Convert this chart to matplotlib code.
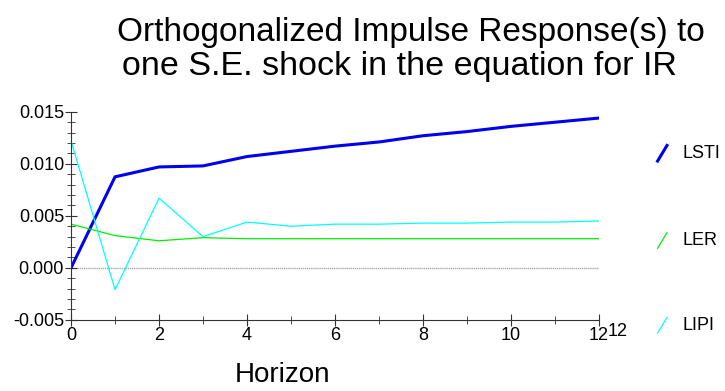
import numpy as np
import matplotlib.pyplot as plt
from matplotlib.lines import Line2D
from matplotlib.ticker import MultipleLocator

plt.rcParams['font.family'] = ['Liberation Sans', 'DejaVu Sans']

# Impulse responses
horizon = list(range(13))
lsti = [0.0, 0.00875, 0.0097, 0.0098, 0.0107, 0.0112, 0.0117, 0.0121,
        0.0127, 0.0131, 0.0136, 0.0140, 0.0144]
ler = [0.0042, 0.0031, 0.0026, 0.0029, 0.0028, 0.0028, 0.0028, 0.0028,
       0.0028, 0.0028, 0.0028, 0.0028, 0.0028]
lipi = [0.0122, -0.0021, 0.0067, 0.0030, 0.0044, 0.0040, 0.0042, 0.0042,
        0.0043, 0.0043, 0.0044, 0.0044, 0.0045]
names = ["LSTI", "LER", "LIPI"]
colors = ["#0000ee", "#00ee00", "#00ffff"]
widths = [2.2, 0.9, 0.9]

fig = plt.figure(figsize=(7.25, 3.91), dpi=100)
ax = fig.add_axes([0.098, 0.182, 0.728, 0.532])

ax.axhline(0, color="#aaaaaa", lw=1, ls=(0, (1, 0.5)), zorder=1)
for series, c, w in zip([lsti, ler, lipi], colors, widths):
    ax.plot(horizon, series, color=c, lw=w, zorder=2)

ax.set_xlim(0, 12)
ax.set_ylim(-0.005, 0.015)
ax.xaxis.set_major_locator(MultipleLocator(2))
ax.xaxis.set_minor_locator(MultipleLocator(1))
ax.yaxis.set_major_locator(MultipleLocator(0.005))
ax.yaxis.set_minor_locator(MultipleLocator(0.001))
ax.yaxis.set_major_formatter(lambda v, p: f"{v:.3f}")
ax.tick_params(which="both", direction="inout", labelsize=13, color="#333333", pad=1)
ax.tick_params(which="major", length=8)
ax.tick_params(which="minor", length=6)
for s in ["top", "right"]:
    ax.spines[s].set_visible(False)
for s in ["left", "bottom"]:
    ax.spines[s].set_color("#333333")

ax.text(12.2, -0.0053, "12", fontsize=13, ha="left", va="top")

fig.text(0.567, 0.918, "Orthogonalized Impulse Response(s) to", fontsize=24, ha="center", va="center")
fig.text(0.551, 0.830, "one S.E. shock in the equation for IR", fontsize=24.5, ha="center", va="center")
fig.text(0.39, 0.04, "Horizon", fontsize=20, ha="center", va="center")

# legend entries
legend_y = [0.608, 0.385, 0.168]
for name, c, w, y in zip(names, colors, widths, legend_y):
    fig.add_artist(Line2D([0.907, 0.920], [y - 0.02, y + 0.02], color=c, lw=w,
                          transform=fig.transFigure))
    fig.text(0.942, y, name, fontsize=13, ha="left", va="center")

fig.savefig("out.png")
